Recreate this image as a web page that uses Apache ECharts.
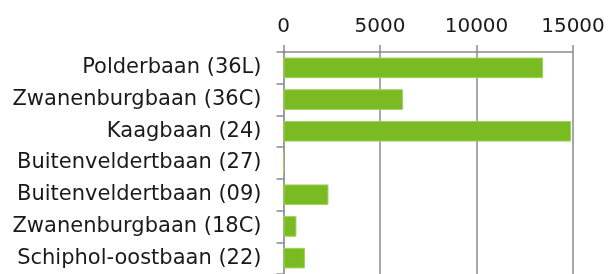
<!DOCTYPE html>
<html>
<head>
<meta charset="utf-8">
<script src="https://cdn.jsdelivr.net/npm/echarts@6/dist/echarts.min.js"></script>
<style>
  html, body { margin: 0; padding: 0; background: #fff; }
  #chart { width: 611px; height: 274px; }
</style>
</head>
<body>
<div id="chart"></div>
<script>
  const runways = ['Polderbaan (36L)', 'Zwanenburgbaan (36C)', 'Kaagbaan (24)', 'Buitenveldertbaan (27)',
    'Buitenveldertbaan (09)', 'Zwanenburgbaan (18C)', 'Schiphol-oostbaan (22)'];
  const movements = [13450, 6190, 14900, 0, 2330, 670, 1110];

  const chart = echarts.init(document.getElementById('chart'));
  const option = {
    animation: false,
    textStyle: { fontFamily: 'DejaVu Sans' },
    grid: {
      left: 283.5,
      right: 38,
      top: 52,
      bottom: -2.5
    },
    xAxis: {
      type: 'value',
      position: 'top',
      min: 0,
      max: 15000,
      interval: 5000,
      axisLine: { show: true, lineStyle: { color: '#8a8a8a', width: 1.5 } },
      axisTick: { show: true, length: 7, lineStyle: { color: '#8a8a8a', width: 1.5 } },
      axisLabel: { color: '#1a1a1a', fontSize: 20, margin: 15, formatter: v => String(v) },
      splitLine: { show: true, lineStyle: { color: '#8a8a8a', width: 1.5 } }
    },
    yAxis: {
      type: 'category',
      inverse: true,
      data: runways,
      axisLine: { show: true, lineStyle: { color: '#999', width: 1.5 } },
      axisTick: { show: true, length: 7, lineStyle: { color: '#8a8a8a', width: 1.5 } },
      axisLabel: { color: '#1a1a1a', fontSize: 21, margin: 22 }
    },
    series: [
      {
        type: 'bar',
        data: movements,
        barCategoryGap: '35%',
        itemStyle: {
          color: '#7aba22',
          borderColor: '#9ed458',
          borderWidth: 1
        }
      }
    ]
  };
  chart.setOption(option);
</script>
</body>
</html>
